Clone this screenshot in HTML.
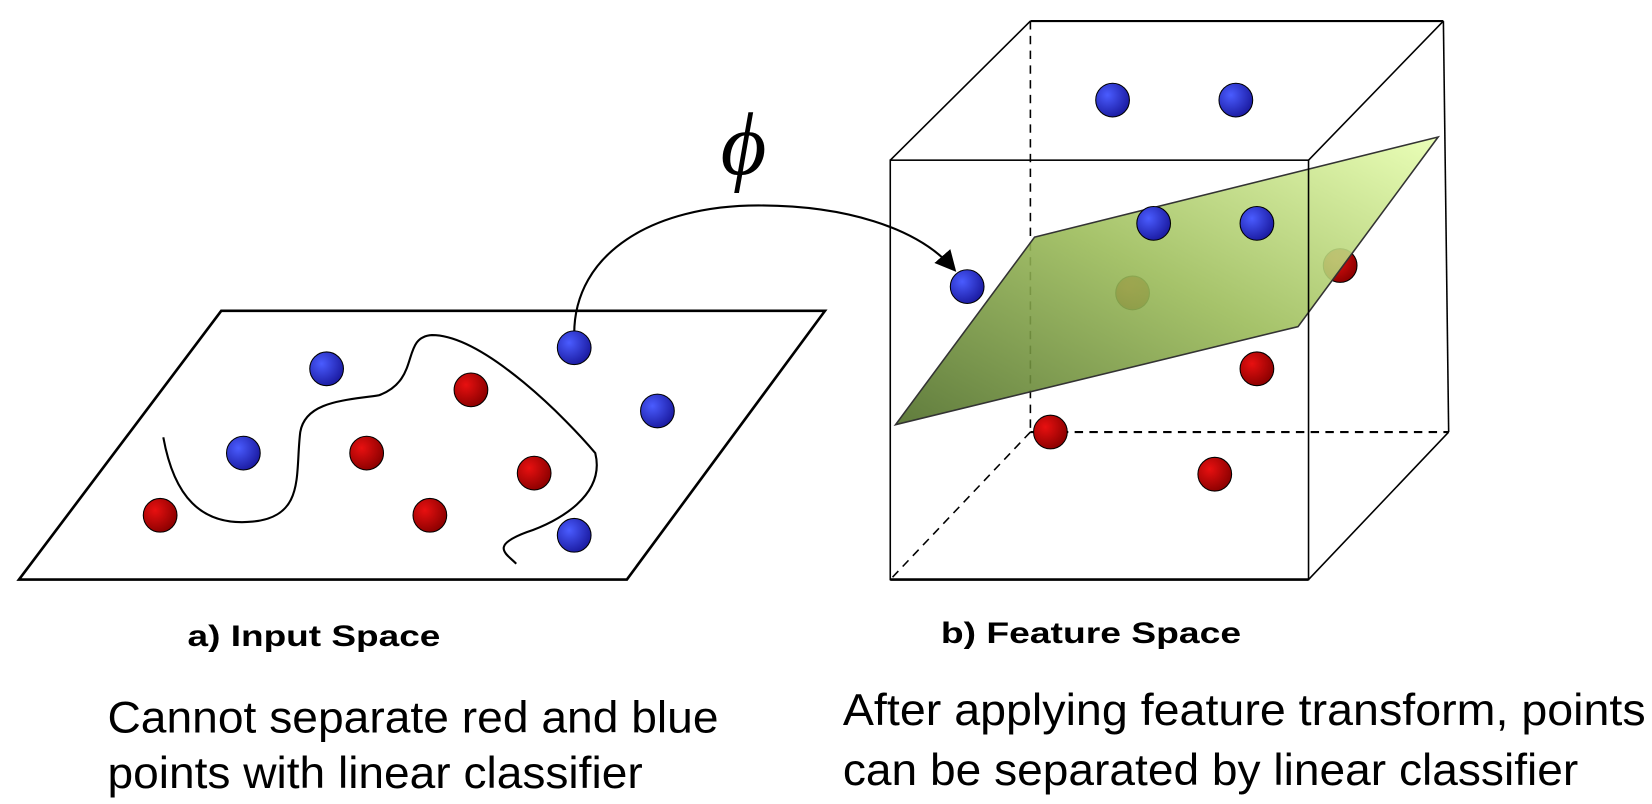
<!DOCTYPE html>
<html><head><meta charset="utf-8"><style>html,body{margin:0;padding:0;background:#fff;overflow:hidden}svg{display:block}</style></head>
<body>
<svg width="1652" height="804" viewBox="0 0 1568 763" preserveAspectRatio="none" xmlns="http://www.w3.org/2000/svg" overflow="visible">
<defs>
<radialGradient id="b" cx="0.35" cy="0.35" r="0.7"><stop offset="0" stop-color="#4a5cff"/><stop offset="1" stop-color="#1a1aa0"/></radialGradient>
<radialGradient id="r" cx="0.35" cy="0.35" r="0.7"><stop offset="0" stop-color="#e81010"/><stop offset="1" stop-color="#8a0000"/></radialGradient>
<linearGradient id="g" x1="1" y1="0" x2="0" y2="1"><stop offset="0" stop-color="#e8ffb0"/><stop offset="0.5" stop-color="#9cbc5a"/><stop offset="1" stop-color="#4f6e28"/></linearGradient>
<marker id="ah" markerWidth="10" markerHeight="10" refX="8" refY="5" orient="auto"><path d="M0,0 L10,5 L0,10 z" fill="#000"/></marker>
</defs>
<g stroke="#000" fill="none">
<polygon points="210,295 783,295 595,550 18,550" stroke-width="2.5"/>
<path d="M155,415 C165,470 190,500 240,495 C290,490 280,450 285,410 C290,380 330,380 360,375 C400,360 380,320 410,318 C460,318 540,400 565,430 C575,470 530,495 500,505 C465,518 480,525 490,535" stroke-width="2"/>
<path d="M545,317 C545,240 620,195 720,195 C800,195 870,215 905,255" stroke-width="2" marker-end="url(#ah)"/>
</g>
<g stroke="#000" stroke-width="1">
<circle cx="310" cy="350" r="16" fill="url(#b)"/><circle cx="231" cy="430" r="16" fill="url(#b)"/><circle cx="545" cy="330" r="16" fill="url(#b)"/><circle cx="624" cy="390" r="16" fill="url(#b)"/><circle cx="545" cy="508" r="16" fill="url(#b)"/>
<circle cx="447" cy="370" r="16" fill="url(#r)"/><circle cx="348" cy="430" r="16" fill="url(#r)"/><circle cx="507" cy="449" r="16" fill="url(#r)"/><circle cx="152" cy="489" r="16" fill="url(#r)"/><circle cx="408" cy="489" r="16" fill="url(#r)"/>
</g>
<text x="684" y="165" font-family="Liberation Serif, serif" font-style="italic" font-size="84">ϕ</text>
<g stroke="#000" fill="none" stroke-width="1.5">
<line x1="978" y1="20" x2="978" y2="410" stroke-dasharray="8,6"/>
<line x1="978" y1="410" x2="1375" y2="410" stroke-dasharray="8,6" stroke-width="2"/>
<line x1="978" y1="410" x2="845" y2="550" stroke-dasharray="8,6"/>
<line x1="978" y1="20" x2="1370" y2="20" stroke-width="2"/>
<line x1="1370" y1="20" x2="1375" y2="410"/>
<line x1="845" y1="152" x2="978" y2="20"/>
<line x1="1242" y1="152" x2="1370" y2="20"/>
<line x1="1242" y1="550" x2="1375" y2="410"/>
</g>
<g stroke="#000" stroke-width="1">
<circle cx="1075" cy="278" r="16" fill="url(#r)"/><circle cx="1272" cy="252" r="16" fill="url(#r)"/>
</g>
<polygon points="982,225 1365,130 1232,310 850,403" fill="url(#g)" fill-opacity="0.9" stroke="#333" stroke-width="1.5"/>
<g stroke="#000" fill="none" stroke-width="1.5">
<rect x="845" y="152" width="397" height="398"/>
<line x1="845" y1="550" x2="1242" y2="550" stroke-width="2.5"/>
</g>
<g stroke="#000" stroke-width="1">
<circle cx="1056" cy="95" r="16" fill="url(#b)"/><circle cx="1173" cy="95" r="16" fill="url(#b)"/><circle cx="1095" cy="212" r="16" fill="url(#b)"/><circle cx="1193" cy="212" r="16" fill="url(#b)"/><circle cx="918" cy="272" r="16" fill="url(#b)"/>
<circle cx="1193" cy="350" r="16" fill="url(#r)"/><circle cx="997" cy="410" r="16" fill="url(#r)"/><circle cx="1153" cy="450" r="16" fill="url(#r)"/>
</g>
<g font-family="Liberation Sans, sans-serif" fill="#000">
<text x="178" y="613" font-size="28" font-weight="bold" textLength="240" lengthAdjust="spacingAndGlyphs">a) Input Space</text>
<text x="893" y="610" font-size="28" font-weight="bold" textLength="285" lengthAdjust="spacingAndGlyphs">b) Feature Space</text>
<text x="102" y="695" font-size="42" textLength="580" lengthAdjust="spacingAndGlyphs">Cannot separate red and blue</text>
<text x="102" y="748" font-size="42" textLength="508" lengthAdjust="spacingAndGlyphs">points with linear classifier</text>
<text x="800" y="688" font-size="42" textLength="762" lengthAdjust="spacingAndGlyphs">After applying feature transform, points</text>
<text x="800" y="745" font-size="42" textLength="698" lengthAdjust="spacingAndGlyphs">can be separated by linear classifier</text>
</g>
</svg>
</body></html>
